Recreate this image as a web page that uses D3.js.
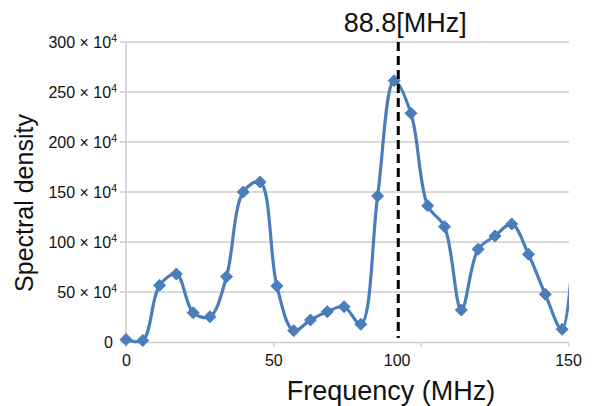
<!DOCTYPE html>
<html>
<head>
<meta charset="utf-8">
<script src="https://cdn.jsdelivr.net/npm/d3@7"></script>
<style>
  html, body { margin: 0; padding: 0; background: #fff; }
  svg { display: block; font-family: "Liberation Sans", Arial, sans-serif; }
</style>
</head>
<body>
<svg id="chart" width="592" height="406"></svg>
<script>
// ---- data ----
const frequencies = [0, 5.7, 11.4, 17.1, 22.8, 28.5, 34.1, 39.8, 45.5, 51.2, 56.9, 62.6, 68.3, 74.0, 79.7, 85.4, 91.0, 96.7, 102.4, 108.1, 113.8, 119.5, 125.2, 130.9, 136.6, 142.3, 148.0];
const densities = [2.5, 1.5, 56.7, 68, 29.3, 25.3, 65.3, 150, 160, 56, 11.3, 22, 30.3, 35.3, 17.7, 146, 261.3, 228.7, 136.3, 115.3, 32, 92.7, 106, 118, 87.7, 47.7, 12.7]; // x 10^4
// the curve continues past the plot edge (clipped)
const trailingFrequencies = [153.7];
const trailingDensities = [230];
const xTicks = [0, 50, 100, 150];
const yTicks = [0, 50, 100, 150, 200, 250, 300];
const markerFrequency = 92.4;
const markerLabel = "88.8[MHz]";
const xTitle = "Frequency (MHz)";
const yTitle = "Spectral density";

// ---- layout ----
const svg = d3.select("#chart");
const x = d3.scaleLinear().domain([0, 150]).range([126, 568]);
const y = d3.scaleLinear().domain([0, 300]).range([342, 42]);
const blue = "#4a7ebb";
const grid = "#cdcdcd";

// gridlines
svg.append("g").selectAll("line").data(yTicks.filter(d => d > 0)).join("line")
  .attr("x1", x(0) - 6).attr("x2", x(150) + 1)
  .attr("y1", d => y(d)).attr("y2", d => y(d))
  .attr("stroke", grid).attr("stroke-width", 1.5);

// y axis line
svg.append("line").attr("x1", x(0)).attr("x2", x(0))
  .attr("y1", y(300)).attr("y2", y(0) + 5)
  .attr("stroke", grid).attr("stroke-width", 1.5);

// x axis
const xAxis = d3.axisBottom(x).tickValues(xTicks).tickSize(5).tickFormat(d3.format("d"));
const gx = svg.append("g").attr("transform", `translate(0,${y(0)})`).call(xAxis);
gx.select(".domain").attr("stroke", grid).attr("stroke-width", 1.5).attr("d", `M${x(0) - 6},0.5H${x(150) + 1}`);
gx.selectAll(".tick line").attr("stroke", grid).attr("stroke-width", 1.5);
gx.selectAll(".tick text")
  .attr("font-size", 16).attr("fill", "#111").attr("y", 13)
  .attr("font-family", "'Liberation Sans', Arial, sans-serif")
  .attr("dx", d => d === 100 ? -24 : 0);

// y tick labels
const yl = svg.append("g").selectAll("text").data(yTicks).join("text")
  .attr("x", 117).attr("y", d => y(d) + 5.5)
  .attr("text-anchor", "end").attr("font-size", 16).attr("fill", "#111");
yl.each(function(d) {
  const t = d3.select(this);
  if (d === 0) { t.attr("x", 113).text("0"); return; }
  t.append("tspan").text(d + " \u00d7 10");
  t.append("tspan").attr("dy", -6).attr("font-size", 10.5).text("4");
});

// axis titles
svg.append("text").attr("x", 391).attr("y", 400)
  .attr("text-anchor", "middle").attr("font-size", 27).attr("fill", "#111").text(xTitle);
svg.append("text").attr("transform", "translate(33,203) rotate(-90)")
  .attr("text-anchor", "middle").attr("font-size", 25).attr("fill", "#111").text(yTitle);

// clip for the series
svg.append("clipPath").attr("id", "plotclip").append("rect")
  .attr("x", x(0) - 10).attr("y", 0).attr("width", x(150) + 1 - (x(0) - 10)).attr("height", 406);

const pts = frequencies.map((f, i) => [f, densities[i]]);
const allPts = pts.concat(trailingFrequencies.map((f, i) => [f, trailingDensities[i]]));

const line = d3.line().x(d => x(d[0])).y(d => y(d[1])).curve(d3.curveCatmullRom.alpha(0.5));

svg.append("path").datum(allPts).attr("clip-path", "url(#plotclip)")
  .attr("d", line).attr("fill", "none").attr("stroke", blue)
  .attr("stroke-width", 3.2).attr("stroke-linejoin", "round");

// diamond markers
svg.append("g").selectAll("path").data(pts).join("path")
  .attr("transform", d => `translate(${x(d[0])},${y(d[1])})`)
  .attr("d", "M0,-6L6,0L0,6L-6,0Z")
  .attr("fill", blue).attr("stroke", blue).attr("stroke-width", 1);

// dashed marker line and label
svg.append("line").attr("x1", x(markerFrequency)).attr("x2", x(markerFrequency))
  .attr("y1", y(300)).attr("y2", y(0) - 4)
  .attr("stroke", "#000").attr("stroke-width", 3).attr("stroke-dasharray", "9,5");
svg.append("text").attr("x", x(markerFrequency) + 7).attr("y", 32)
  .attr("text-anchor", "middle").attr("font-size", 27).attr("fill", "#111").text(markerLabel);
</script>
</body>
</html>
